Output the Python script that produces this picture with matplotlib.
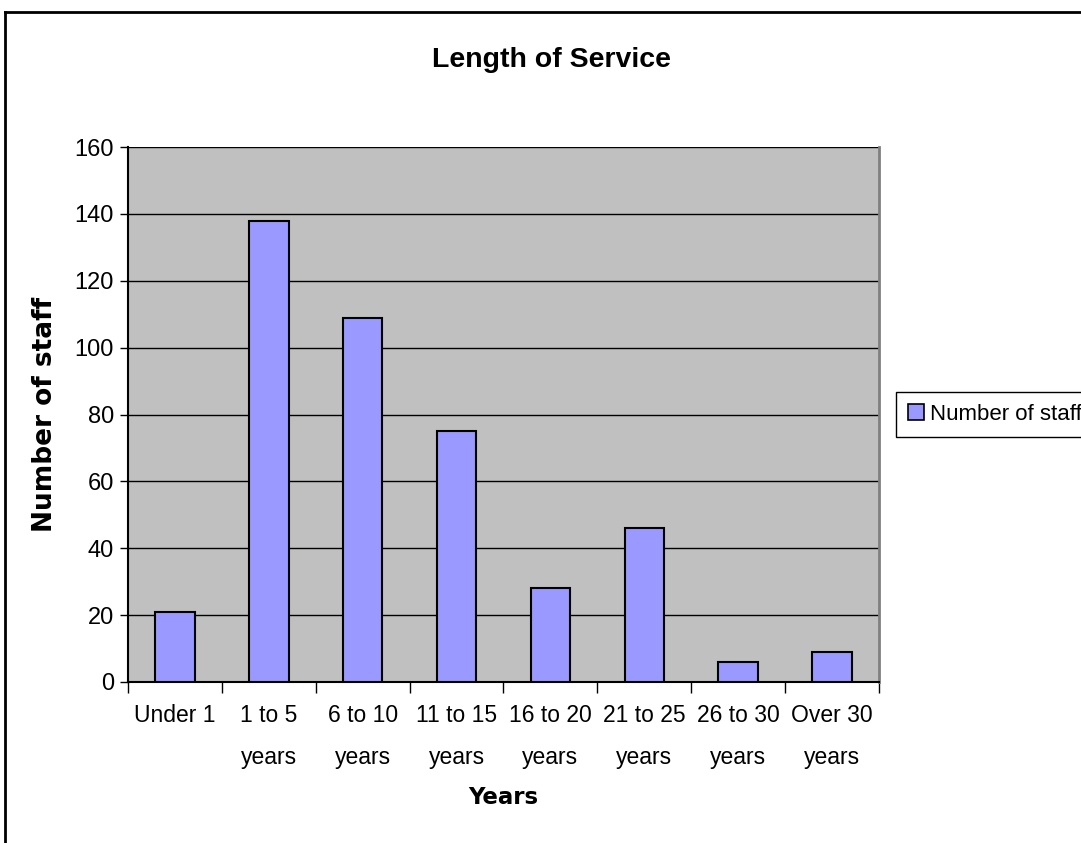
import matplotlib
matplotlib.use("Agg")
import matplotlib.pyplot as plt
from matplotlib.lines import Line2D
from matplotlib.patches import Patch

plt.rcParams['font.family'] = ['Liberation Sans', 'DejaVu Sans']

categories = ["Under 1", "1 to 5\nyears", "6 to 10\nyears", "11 to 15\nyears",
              "16 to 20\nyears", "21 to 25\nyears", "26 to 30\nyears", "Over 30\nyears"]
staff = [21, 138, 109, 75, 28, 46, 6, 9]
y_ticks = [0, 20, 40, 60, 80, 100, 120, 140, 160]

W, H = 1081, 843
fig = plt.figure(figsize=(W / 100, H / 100), dpi=100)
fig.patch.set_facecolor('white')

# outer chart border (top and left visible)
fig.add_artist(Line2D([5 / W, 5 / W], [0, 1 - 12 / H], transform=fig.transFigure, color='black', lw=2))
fig.add_artist(Line2D([5 / W, 1], [1 - 12 / H, 1 - 12 / H], transform=fig.transFigure, color='black', lw=2))

left, right, top, bottom = 128, 879, 147, 682
ax = fig.add_axes([left / W, 1 - bottom / H, (right - left) / W, (bottom - top) / H])
ax.set_facecolor('#C0C0C0')

x = list(range(len(categories)))
ax.bar(x, staff, width=0.42, color='#9999FF', edgecolor='black', linewidth=1.5, zorder=3,
       label='Number of staff')

ax.set_xlim(-0.5, len(categories) - 0.5)
ax.set_ylim(0, 160)
ax.set_yticks(y_ticks)
ax.yaxis.grid(True, color='black', linewidth=1, zorder=1)
ax.set_axisbelow(True)

# x ticks at category boundaries, labels at centres
ax.set_xticks([i - 0.5 for i in range(len(categories) + 1)])
ax.set_xticklabels([])
ax.set_xticks(x, minor=True)
ax.set_xticklabels(categories, minor=True, fontsize=16.5, linespacing=2.05, va='top')
ax.tick_params(axis='x', which='minor', length=0, pad=16)
ax.tick_params(axis='x', which='major', length=8, width=1, direction='out', color='black')
ax.tick_params(axis='y', length=6, width=1, direction='out', labelsize=17, pad=4)

ax.spines['right'].set_color('#808080')
ax.spines['right'].set_linewidth(2)
ax.spines['top'].set_visible(False)
ax.spines['left'].set_color('black')
ax.spines['left'].set_linewidth(1.5)
ax.spines['bottom'].set_color('black')
ax.spines['bottom'].set_linewidth(1.5)

ax.set_ylabel('Number of staff', fontsize=19, fontweight='bold', labelpad=12,
              family=['DejaVu Sans'])
ax.set_xlabel('Years', fontsize=16.5, fontweight='bold', labelpad=12,
              family=['DejaVu Sans'])

fig.text(551 / W, 1 - 60 / H, 'Length of Service', ha='center', va='center',
         fontsize=20.5, fontweight='bold')

handle = Patch(facecolor='#9999FF', edgecolor='black', linewidth=1.2)
leg = fig.legend([handle], ['Number of staff'], loc='center left',
                 bbox_to_anchor=(896 / W, 1 - 414.5 / H), fontsize=16,
                 frameon=True, fancybox=False, edgecolor='black', framealpha=1,
                 handlelength=0.7, handleheight=0.7, handletextpad=0.3,
                 borderpad=0.55, borderaxespad=0)
leg.get_frame().set_linewidth(1)

fig.savefig('out.png', dpi=100)
